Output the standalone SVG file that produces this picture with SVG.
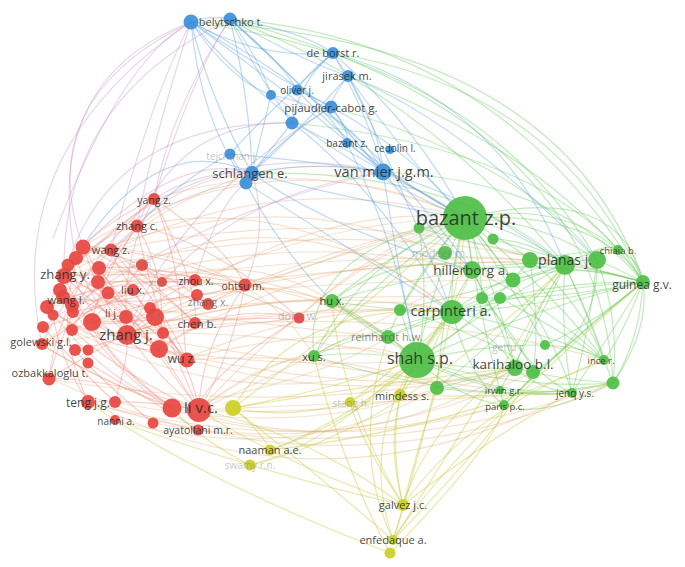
<svg xmlns="http://www.w3.org/2000/svg" width="685" height="567" viewBox="0 0 685 567">
<style>
path{fill:none;stroke-width:1.2;stroke-linecap:round}
.r{stroke:#ee7a70;stroke-opacity:.36}
.o{stroke:#e3a66a;stroke-opacity:.32}
.g{stroke:#5ec852;stroke-opacity:.38}
.b{stroke:#5ea3e0;stroke-opacity:.4}
.y{stroke:#c6cf45;stroke-opacity:.45}
.p{stroke:#c79cc4;stroke-opacity:.4}
.nr{fill:#e8453f;fill-opacity:.92}
.ng{fill:#4ebf45;fill-opacity:.92}
.nb{fill:#3b8fd8;fill-opacity:.92}
.ny{fill:#cdd02a;fill-opacity:.95}
text{font-family:"Open Sans","Noto Sans","DejaVu Sans",sans-serif;fill:#2a2a2a;fill-opacity:.88;text-anchor:middle}
.f{fill:#777;fill-opacity:.45}
.m{fill:#555;fill-opacity:.7}
</style>
<rect width="685" height="567" fill="#fff"/>
<g id="connectors">
<path class="r" d="M154 199Q110 220 83 246"/>
<path class="r" d="M154 199Q120 260 127 333"/>
<path class="r" d="M154 199Q90 250 64 276"/>
<path class="r" d="M154 199Q180 260 186 359"/>
<path class="r" d="M154 199Q60 280 49 378"/>
<path class="r" d="M137 226Q100 280 92 322"/>
<path class="r" d="M137 226Q170 280 159 350"/>
<path class="r" d="M137 226Q80 240 47 307"/>
<path class="r" d="M137 226Q150 300 199 410"/>
<path class="r" d="M83 246Q100 300 127 333"/>
<path class="r" d="M83 246Q150 280 195 323"/>
<path class="r" d="M83 246Q50 320 88 402"/>
<path class="r" d="M111 250Q160 300 186 359"/>
<path class="r" d="M111 250Q60 300 42 345"/>
<path class="r" d="M64 276Q120 300 159 350"/>
<path class="r" d="M64 276Q100 360 172 408"/>
<path class="r" d="M64 276Q200 270 245 285"/>
<path class="r" d="M99 268Q140 330 199 410"/>
<path class="r" d="M142 265Q100 320 72 330"/>
<path class="r" d="M133 292Q160 330 186 359"/>
<path class="r" d="M195 281Q150 300 127 333"/>
<path class="r" d="M195 281Q100 280 47 307"/>
<path class="r" d="M197 297Q130 330 92 322"/>
<path class="r" d="M245 285Q180 320 127 333"/>
<path class="r" d="M245 285Q200 350 199 410"/>
<path class="r" d="M245 285Q150 250 83 246"/>
<path class="r" d="M47 307Q100 350 159 350"/>
<path class="r" d="M47 307Q120 400 199 410"/>
<path class="r" d="M42 345Q100 380 172 408"/>
<path class="r" d="M49 378Q120 380 199 410"/>
<path class="r" d="M88 402Q150 400 199 410"/>
<path class="r" d="M127 333Q160 380 199 410"/>
<path class="r" d="M127 333Q80 360 49 378"/>
<path class="r" d="M92 322Q150 360 186 359"/>
<path class="r" d="M159 350Q180 380 199 410"/>
<path class="r" d="M155 317Q190 360 199 410"/>
<path class="r" d="M125 316Q80 280 64 276"/>
<path class="r" d="M163 333Q120 300 99 268"/>
<path class="r" d="M72 330Q90 290 133 292"/>
<path class="r" d="M43 327Q90 380 115 402"/>
<path class="r" d="M299 318Q220 300 159 350"/>
<path class="r" d="M299 318Q200 380 199 410"/>
<path class="r" d="M299 318Q180 260 99 268"/>
<path class="r" d="M195 323Q140 270 111 250"/>
<path class="r" d="M186 359Q120 330 64 276"/>
<path class="r" d="M198 430Q150 420 88 402"/>
<path class="r" d="M153 423Q100 380 75 350"/>
<path class="r" d="M245 285Q230 360 199 410"/>
<path class="r" d="M154 199Q230 250 245 285"/>
<path class="r" d="M137 226Q210 240 299 318"/>
<path class="r" d="M83 246Q130 330 159 349"/>
<path class="r" d="M76 258Q140 280 195 280"/>
<path class="r" d="M68 265Q100 340 127 335"/>
<path class="r" d="M99 268Q60 330 49 379"/>
<path class="r" d="M98 282Q150 330 187 360"/>
<path class="r" d="M108 293Q70 330 42 344"/>
<path class="r" d="M60 290Q120 320 163 333"/>
<path class="r" d="M63 297Q130 390 172 408"/>
<path class="r" d="M47 307Q90 340 127 335"/>
<path class="r" d="M73 312Q130 300 195 280"/>
<path class="r" d="M53 315Q60 360 88 402"/>
<path class="r" d="M150 308Q100 300 68 265"/>
<path class="r" d="M92 322Q150 300 197 295"/>
<path class="r" d="M72 330Q130 380 199 410"/>
<path class="r" d="M43 327Q100 310 133 290"/>
<path class="r" d="M75 350Q130 340 155 317"/>
<path class="r" d="M88 363Q150 400 198 430"/>
<path class="r" d="M159 349Q100 330 76 258"/>
<path class="r" d="M187 360Q120 280 111 250"/>
<path class="r" d="M208 304Q150 260 83 247"/>
<path class="r" d="M172 408Q110 360 92 322"/>
<path class="r" d="M115 402Q130 350 127 335"/>
<path class="r" d="M154 199Q200 290 195 323"/>
<path class="r" d="M137 226Q90 300 73 312"/>
<path class="r" d="M142 265Q180 300 208 304"/>
<path class="r" d="M245 285Q160 280 98 282"/>
<path class="r" d="M299 318Q200 330 127 335"/>
<path class="r" d="M299 318Q160 320 92 322"/>
<path class="r" d="M245 285Q150 310 63 297"/>
<path class="o" d="M127 333Q300 200 465 218"/>
<path class="o" d="M127 333Q300 280 452 312"/>
<path class="o" d="M127 333Q280 330 417 360"/>
<path class="o" d="M199 410Q320 320 417 360"/>
<path class="o" d="M199 410Q340 260 465 218"/>
<path class="o" d="M199 410Q350 340 472 270"/>
<path class="o" d="M199 410Q380 420 515 368"/>
<path class="o" d="M64 276Q260 160 465 218"/>
<path class="o" d="M47 307Q260 220 472 270"/>
<path class="o" d="M83 246Q280 130 465 218"/>
<path class="o" d="M172 408Q350 470 515 368"/>
<path class="o" d="M49 378Q330 510 613 383"/>
<path class="o" d="M88 402Q330 520 572 393"/>
<path class="o" d="M42 345Q260 480 504 405"/>
<path class="o" d="M195 281Q330 220 465 218"/>
<path class="o" d="M186 359Q320 300 452 312"/>
<path class="o" d="M159 350Q300 370 417 360"/>
<path class="o" d="M245 285Q360 240 465 218"/>
<path class="o" d="M154 199Q310 150 465 218"/>
<path class="o" d="M137 226Q300 190 452 312"/>
<path class="o" d="M111 250Q350 200 565 265"/>
<path class="o" d="M92 322Q350 250 565 265"/>
<path class="o" d="M64 276Q350 200 643 282"/>
<path class="o" d="M47 307Q350 260 597 260"/>
<path class="o" d="M127 333Q400 300 604 360"/>
<path class="o" d="M159 350Q380 400 533 372"/>
<path class="o" d="M199 410Q420 400 572 393"/>
<path class="o" d="M186 359Q300 330 388 337"/>
<path class="o" d="M127 333Q230 300 332 301"/>
<path class="o" d="M199 410Q260 360 314 356"/>
<path class="o" d="M245 285Q290 290 332 301"/>
<path class="o" d="M299 318Q380 290 452 312"/>
<path class="o" d="M299 318Q380 240 465 218"/>
<path class="o" d="M72 330Q250 420 417 360"/>
<path class="o" d="M115 402Q300 440 437 388"/>
<path class="o" d="M92 322Q300 420 515 368"/>
<path class="o" d="M42 345Q300 300 452 312"/>
<path class="o" d="M64 276Q300 250 417 360"/>
<path class="o" d="M98 282Q300 180 452 312"/>
<path class="o" d="M76 258Q300 170 472 270"/>
<path class="o" d="M60 290Q330 250 530 260"/>
<path class="o" d="M92 322Q320 290 482 298"/>
<path class="o" d="M155 317Q320 260 465 218"/>
<path class="o" d="M187 360Q350 350 437 388"/>
<path class="o" d="M159 349Q350 230 565 265"/>
<path class="o" d="M172 408Q320 380 388 337"/>
<path class="o" d="M195 323Q340 310 400 310"/>
<path class="o" d="M208 304Q320 260 419 228"/>
<path class="o" d="M197 295Q350 280 513 280"/>
<path class="o" d="M49 379Q300 420 515 368"/>
<path class="o" d="M88 402Q300 460 504 405"/>
<path class="o" d="M198 430Q400 460 613 383"/>
<path class="o" d="M153 423Q350 460 533 372"/>
<path class="o" d="M115 420Q300 470 437 388"/>
<path class="o" d="M245 285Q350 300 417 360"/>
<path class="o" d="M127 335Q350 370 500 390"/>
<path class="o" d="M111 250Q300 100 465 218"/>
<path class="o" d="M42 344Q200 220 332 301"/>
<path class="o" d="M83 247Q250 250 314 356"/>
<path class="o" d="M63 297Q300 330 388 337"/>
<path class="p" d="M43 327Q200 210 383 172"/>
<path class="p" d="M64 276Q200 130 383 172"/>
<path class="p" d="M83 246Q180 150 252 173"/>
<path class="p" d="M111 250Q170 190 246 183"/>
<path class="p" d="M154 199Q200 170 252 173"/>
<path class="p" d="M53 238Q120 60 191 22"/>
<path class="p" d="M42 345Q0 150 191 22"/>
<path class="p" d="M64 276Q60 100 230 19"/>
<path class="p" d="M76 260Q40 80 191 22"/>
<path class="p" d="M137 226Q180 120 292 123"/>
<path class="p" d="M127 333Q180 200 331 107"/>
<path class="p" d="M230 19Q170 110 154 199"/>
<path class="p" d="M191 22Q150 150 137 226"/>
<path class="p" d="M98 282Q150 180 252 173"/>
<path class="p" d="M127 335Q200 200 383 172"/>
<path class="p" d="M195 280Q220 200 246 183"/>
<path class="p" d="M60 290Q100 120 292 123"/>
<path class="p" d="M154 199Q190 80 230 19"/>
<path class="p" d="M111 250Q150 100 191 22"/>
<path class="p" d="M245 285Q270 230 252 173"/>
<path class="p" d="M83 247Q30 100 191 22"/>
<path class="g" d="M465 218Q470 245 472 270"/>
<path class="g" d="M465 218Q450 265 452 312"/>
<path class="g" d="M465 218Q430 290 417 360"/>
<path class="g" d="M465 218Q520 230 565 265"/>
<path class="g" d="M465 218Q540 220 597 260"/>
<path class="g" d="M465 218Q600 210 643 282"/>
<path class="g" d="M465 218Q560 200 618 250"/>
<path class="g" d="M465 218Q500 300 515 368"/>
<path class="g" d="M465 218Q560 300 604 360"/>
<path class="g" d="M465 218Q550 320 572 393"/>
<path class="g" d="M465 218Q480 320 504 405"/>
<path class="g" d="M465 218Q380 260 332 301"/>
<path class="g" d="M465 218Q360 290 314 356"/>
<path class="g" d="M465 218Q410 280 388 337"/>
<path class="g" d="M465 218Q430 230 419 228"/>
<path class="g" d="M472 270Q520 260 565 265"/>
<path class="g" d="M472 270Q560 260 643 282"/>
<path class="g" d="M472 270Q450 310 417 360"/>
<path class="g" d="M472 270Q500 320 515 368"/>
<path class="g" d="M472 270Q400 280 332 301"/>
<path class="g" d="M452 312Q520 280 565 265"/>
<path class="g" d="M452 312Q550 280 643 282"/>
<path class="g" d="M452 312Q430 340 417 360"/>
<path class="g" d="M452 312Q500 340 515 368"/>
<path class="g" d="M452 312Q540 330 604 360"/>
<path class="g" d="M452 312Q380 310 332 301"/>
<path class="g" d="M452 312Q370 330 314 356"/>
<path class="g" d="M417 360Q500 300 565 265"/>
<path class="g" d="M417 360Q530 310 643 282"/>
<path class="g" d="M417 360Q470 370 515 368"/>
<path class="g" d="M417 360Q520 390 613 383"/>
<path class="g" d="M417 360Q500 400 572 393"/>
<path class="g" d="M417 360Q460 400 504 405"/>
<path class="g" d="M417 360Q370 350 314 356"/>
<path class="g" d="M417 360Q370 320 332 301"/>
<path class="g" d="M565 265Q600 270 643 282"/>
<path class="g" d="M565 265Q590 320 613 383"/>
<path class="g" d="M565 265Q560 330 572 393"/>
<path class="g" d="M565 265Q530 320 515 368"/>
<path class="g" d="M597 260Q620 320 613 383"/>
<path class="g" d="M643 282Q620 340 604 360"/>
<path class="g" d="M643 282Q640 340 613 383"/>
<path class="g" d="M643 282Q600 350 572 393"/>
<path class="g" d="M643 282Q560 350 504 405"/>
<path class="g" d="M643 282Q520 310 452 312"/>
<path class="g" d="M530 260Q540 330 533 372"/>
<path class="g" d="M515 368Q560 380 613 383"/>
<path class="g" d="M515 368Q540 390 572 393"/>
<path class="g" d="M613 383Q540 420 504 405"/>
<path class="g" d="M643 282Q620 180 465 218"/>
<path class="g" d="M613 383Q650 330 643 282"/>
<path class="g" d="M618 250Q640 260 643 282"/>
<path class="g" d="M332 301Q360 320 388 337"/>
<path class="g" d="M314 356Q350 330 388 337"/>
<path class="g" d="M437 388Q470 380 515 368"/>
<path class="g" d="M437 388Q530 400 613 383"/>
<path class="g" d="M400 310Q430 260 465 218"/>
<path class="g" d="M400 310Q480 290 565 265"/>
<path class="g" d="M482 298Q520 340 533 372"/>
<path class="g" d="M500 298Q560 330 604 360"/>
<path class="g" d="M545 345Q520 300 465 218"/>
<path class="g" d="M230 19Q500 40 643 282"/>
<path class="g" d="M191 22Q480 60 597 260"/>
<path class="g" d="M333 53Q560 90 643 282"/>
<path class="g" d="M348 76Q520 140 618 250"/>
<path class="g" d="M230 19Q420 90 565 265"/>
<path class="g" d="M314 356Q450 400 572 393"/>
<path class="g" d="M332 301Q480 420 613 383"/>
<path class="g" d="M388 337Q500 290 643 282"/>
<path class="g" d="M314 356Q300 250 465 218"/>
<path class="g" d="M597 260Q600 330 533 372"/>
<path class="g" d="M530 260Q580 300 604 360"/>
<path class="g" d="M465 218Q500 260 513 280"/>
<path class="g" d="M465 218Q520 250 530 260"/>
<path class="g" d="M465 218Q480 250 482 298"/>
<path class="g" d="M419 228Q430 300 417 360"/>
<path class="g" d="M419 228Q500 250 565 265"/>
<path class="g" d="M493 239Q530 240 565 265"/>
<path class="g" d="M493 239Q560 260 643 282"/>
<path class="g" d="M472 270Q540 300 604 360"/>
<path class="g" d="M472 270Q520 370 572 393"/>
<path class="g" d="M452 312Q470 380 504 405"/>
<path class="g" d="M452 312Q520 260 597 260"/>
<path class="g" d="M417 360Q480 320 530 260"/>
<path class="g" d="M417 360Q560 330 604 360"/>
<path class="g" d="M513 280Q580 260 643 282"/>
<path class="g" d="M530 260Q590 250 618 250"/>
<path class="g" d="M565 265Q610 240 618 250"/>
<path class="g" d="M597 260Q620 270 643 282"/>
<path class="g" d="M565 265Q600 340 604 360"/>
<path class="g" d="M388 337Q420 320 452 312"/>
<path class="g" d="M332 301Q400 250 472 270"/>
<path class="g" d="M314 356Q360 260 465 218"/>
<path class="g" d="M437 388Q440 330 465 218"/>
<path class="g" d="M437 388Q500 340 565 265"/>
<path class="g" d="M500 390Q540 320 565 265"/>
<path class="g" d="M504 405Q580 330 643 282"/>
<path class="g" d="M572 393Q590 330 597 260"/>
<path class="g" d="M545 345Q600 320 643 282"/>
<path class="g" d="M482 298Q560 300 643 282"/>
<path class="g" d="M400 310Q500 340 533 372"/>
<path class="g" d="M400 310Q410 340 417 360"/>
<path class="g" d="M191 22Q560 40 643 282"/>
<path class="g" d="M230 19Q600 120 613 383"/>
<path class="g" d="M292 123Q560 150 643 282"/>
<path class="g" d="M331 107Q520 160 597 260"/>
<path class="g" d="M383 172Q560 180 643 282"/>
<path class="g" d="M252 173Q460 170 565 265"/>
<path class="b" d="M191 22Q210 100 252 173"/>
<path class="b" d="M191 22Q200 120 246 183"/>
<path class="b" d="M191 22Q260 60 333 53"/>
<path class="b" d="M191 22Q280 80 331 107"/>
<path class="b" d="M191 22Q300 150 465 218"/>
<path class="b" d="M191 22Q350 100 472 270"/>
<path class="b" d="M230 19Q300 30 333 53"/>
<path class="b" d="M230 19Q300 60 348 76"/>
<path class="b" d="M230 19Q260 80 292 123"/>
<path class="b" d="M230 19Q250 100 252 173"/>
<path class="b" d="M230 19Q340 120 383 172"/>
<path class="b" d="M191 22Q210 15 230 19"/>
<path class="b" d="M333 53Q340 65 348 76"/>
<path class="b" d="M333 53Q300 80 292 123"/>
<path class="b" d="M333 53Q420 130 465 218"/>
<path class="b" d="M333 53Q500 100 565 265"/>
<path class="b" d="M348 76Q400 150 465 218"/>
<path class="b" d="M348 76Q460 120 597 260"/>
<path class="b" d="M348 76Q300 130 252 173"/>
<path class="b" d="M331 107Q360 150 383 172"/>
<path class="b" d="M331 107Q410 150 465 218"/>
<path class="b" d="M331 107Q280 140 252 173"/>
<path class="b" d="M292 123Q350 150 383 172"/>
<path class="b" d="M292 123Q370 180 452 312"/>
<path class="b" d="M297 90Q320 100 331 107"/>
<path class="b" d="M271 95Q260 140 252 173"/>
<path class="b" d="M347 143Q380 170 465 218"/>
<path class="b" d="M252 173Q320 160 383 172"/>
<path class="b" d="M252 173Q350 200 465 218"/>
<path class="b" d="M246 183Q350 250 452 312"/>
<path class="b" d="M383 172Q420 190 465 218"/>
<path class="b" d="M383 172Q430 230 472 270"/>
<path class="b" d="M383 172Q480 200 565 265"/>
<path class="b" d="M252 173Q160 130 83 246"/>
<path class="b" d="M230 154Q180 180 137 226"/>
<path class="b" d="M271 95Q350 110 383 172"/>
<path class="b" d="M297 90Q360 160 465 218"/>
<path class="b" d="M348 76Q380 130 383 172"/>
<path class="b" d="M333 53Q260 120 230 154"/>
<path class="b" d="M246 183Q280 250 332 301"/>
<path class="b" d="M347 143Q400 250 417 360"/>
<path class="b" d="M230 19Q330 110 347 143"/>
<path class="b" d="M191 22Q300 100 383 172"/>
<path class="b" d="M333 53Q370 120 383 172"/>
<path class="b" d="M348 76Q330 100 331 107"/>
<path class="b" d="M271 95Q300 110 292 123"/>
<path class="b" d="M230 19Q260 60 271 95"/>
<path class="b" d="M230 19Q280 60 297 90"/>
<path class="b" d="M191 22Q230 80 271 95"/>
<path class="b" d="M333 53Q310 70 297 90"/>
<path class="b" d="M292 123Q270 150 252 173"/>
<path class="b" d="M331 107Q350 130 347 143"/>
<path class="b" d="M348 76Q400 180 452 312"/>
<path class="b" d="M383 172Q400 280 417 360"/>
<path class="b" d="M252 173Q330 230 472 270"/>
<path class="b" d="M230 154Q300 160 383 172"/>
<path class="b" d="M230 154Q240 170 246 183"/>
<path class="y" d="M403 505Q380 420 417 360"/>
<path class="y" d="M403 505Q430 420 515 368"/>
<path class="y" d="M403 505Q500 430 572 393"/>
<path class="y" d="M403 505Q340 400 332 301"/>
<path class="y" d="M403 505Q300 430 199 410"/>
<path class="y" d="M403 505Q470 410 604 360"/>
<path class="y" d="M393 540Q360 440 417 360"/>
<path class="y" d="M393 540Q470 420 565 265"/>
<path class="y" d="M393 540Q300 460 233 408"/>
<path class="y" d="M393 540Q400 520 403 505"/>
<path class="y" d="M393 540Q420 460 452 312"/>
<path class="y" d="M390 553Q340 460 314 356"/>
<path class="y" d="M233 408Q330 390 417 360"/>
<path class="y" d="M233 408Q350 320 465 218"/>
<path class="y" d="M233 408Q300 300 452 312"/>
<path class="y" d="M270 450Q350 420 417 360"/>
<path class="y" d="M270 450Q450 430 604 360"/>
<path class="y" d="M250 465Q350 440 452 312"/>
<path class="y" d="M250 465Q200 440 172 408"/>
<path class="y" d="M350 402Q390 380 417 360"/>
<path class="y" d="M350 402Q290 420 233 408"/>
<path class="y" d="M400 395Q410 375 417 360"/>
<path class="y" d="M400 395Q460 330 465 218"/>
<path class="y" d="M400 395Q520 400 613 383"/>
<path class="y" d="M270 450Q230 430 199 410"/>
<path class="y" d="M403 505Q250 470 115 420"/>
<path class="y" d="M390 553Q200 480 88 402"/>
<path class="y" d="M403 505Q390 450 400 395"/>
<path class="y" d="M393 540Q450 450 643 282"/>
<path class="y" d="M390 553Q500 440 504 405"/>
<path class="y" d="M403 505Q420 440 437 388"/>
<path class="y" d="M403 505Q360 440 350 402"/>
<path class="y" d="M393 540Q500 430 533 372"/>
<path class="y" d="M393 540Q350 450 388 337"/>
<path class="y" d="M403 505Q330 480 270 450"/>
<path class="y" d="M233 408Q260 430 270 450"/>
<path class="y" d="M233 408Q400 380 515 368"/>
<path class="y" d="M270 450Q420 400 472 270"/>
<path class="y" d="M250 465Q400 430 565 265"/>
<path class="y" d="M350 402Q420 350 452 312"/>
</g>
<g id="n-0"><circle class="nb" cx="191" cy="22" r="7.5"/></g>
<g id="n-1"><circle class="nb" cx="271" cy="95" r="5"/></g>
<g id="n-2"><circle class="nb" cx="292" cy="123" r="6.5"/></g>
<g id="n-3"><circle class="nb" cx="246" cy="183" r="6.5"/></g>
<g id="n-4"><circle class="ng" cx="419" cy="228" r="5.5"/></g>
<g id="n-5"><circle class="ng" cx="493" cy="239" r="5.5"/></g>
<g id="n-6"><circle class="ng" cx="530" cy="260" r="8"/></g>
<g id="n-7"><circle class="ng" cx="513" cy="280" r="7.5"/></g>
<g id="n-8"><circle class="ng" cx="597" cy="260" r="9"/></g>
<g id="n-9"><circle class="ng" cx="482" cy="298" r="6"/></g>
<g id="n-10"><circle class="ng" cx="500" cy="298" r="6"/></g>
<g id="n-11"><circle class="ng" cx="400" cy="310" r="6"/></g>
<g id="n-12"><circle class="ng" cx="533" cy="372" r="7"/></g>
<g id="n-13"><circle class="ng" cx="613" cy="383" r="6.5"/></g>
<g id="n-14"><circle class="ng" cx="437" cy="388" r="7"/></g>
<g id="n-15"><circle class="ny" cx="390" cy="553" r="5.5"/></g>
<g id="n-16"><circle class="nr" cx="83" cy="247" r="7.5"/></g>
<g id="n-17"><circle class="nr" cx="76" cy="258" r="7"/></g>
<g id="n-18"><circle class="nr" cx="68" cy="265" r="6.5"/></g>
<g id="n-19"><circle class="nr" cx="99" cy="268" r="7"/></g>
<g id="n-20"><circle class="nr" cx="98" cy="282" r="7"/></g>
<g id="n-21"><circle class="nr" cx="108" cy="293" r="6.5"/></g>
<g id="n-22"><circle class="nr" cx="60" cy="290" r="7"/></g>
<g id="n-23"><circle class="nr" cx="63" cy="297" r="7"/></g>
<g id="n-24"><circle class="nr" cx="47" cy="307" r="7"/></g>
<g id="n-25"><circle class="nr" cx="73" cy="312" r="6"/></g>
<g id="n-26"><circle class="nr" cx="53" cy="315" r="5.5"/></g>
<g id="n-27"><circle class="nr" cx="150" cy="308" r="6"/></g>
<g id="n-28"><circle class="nr" cx="92" cy="322" r="9"/></g>
<g id="n-29"><circle class="nr" cx="163" cy="333" r="6"/></g>
<g id="n-30"><circle class="nr" cx="72" cy="330" r="6"/></g>
<g id="n-31"><circle class="nr" cx="43" cy="327" r="6"/></g>
<g id="n-32"><circle class="nr" cx="75" cy="350" r="6"/></g>
<g id="n-33"><circle class="nr" cx="88" cy="350" r="5.5"/></g>
<g id="n-34"><circle class="nr" cx="88" cy="363" r="5.5"/></g>
<g id="n-35"><circle class="nr" cx="159" cy="349" r="9"/></g>
<g id="n-36"><circle class="nr" cx="115" cy="402" r="6"/></g>
<g id="n-37"><circle class="nr" cx="153" cy="423" r="5.5"/></g>
<g id="n-38"><circle class="nr" cx="172" cy="408" r="9.5"/></g>
<g id="n-39"><circle class="nr" cx="208" cy="304" r="6"/></g>
<g id="n-bazant-zp"><circle class="ng" cx="465" cy="218" r="22"/><text x="466" y="225" font-size="20">bazant z.p.</text></g>
<g id="n-shah-sp"><circle class="ng" cx="417" cy="360" r="18"/><text x="420" y="364" font-size="16">shah s.p.</text></g>
<g id="n-carpinteri-a"><circle class="ng" cx="452" cy="312" r="12"/><text x="451" y="316" font-size="14.5">carpinteri a.</text></g>
<g id="n-planas-j"><circle class="ng" cx="565" cy="265" r="10"/><text x="565" y="265" font-size="14">planas j.</text></g>
<g id="n-hillerborg-a"><circle class="ng" cx="472" cy="270" r="9"/><text x="471" y="275" font-size="13.5">hillerborg a.</text></g>
<g id="n-modeer-m"><circle class="ng" cx="445" cy="253" r="7"/><text class="f" x="440" y="257" font-size="11">modeer m.</text></g>
<g id="n-karihaloo-bl"><circle class="ng" cx="515" cy="368" r="8"/><text x="513" y="369" font-size="13.5">karihaloo b.l.</text></g>
<g id="n-gettu-r"><circle class="ng" cx="545" cy="345" r="5"/><text class="f" x="509" y="350.5" font-size="10">gettu r.</text></g>
<g id="n-guinea-gv"><circle class="ng" cx="643" cy="282" r="7"/><text x="642" y="289" font-size="12">guinea g.v.</text></g>
<g id="n-chiaia-b"><circle class="ng" cx="618" cy="250" r="5"/><text x="618" y="254" font-size="9.5">chiaia b.</text></g>
<g id="n-ince-r"><circle class="ng" cx="604" cy="360" r="5"/><text x="601" y="363.5" font-size="9.5">ince r.</text></g>
<g id="n-irwin-gr"><circle class="ng" cx="500" cy="390" r="4"/><text x="504" y="393.5" font-size="9.5">irwin g.r.</text></g>
<g id="n-paris-pc"><circle class="ng" cx="504" cy="405" r="5"/><text x="505" y="409.5" font-size="9.5">paris p.c.</text></g>
<g id="n-jenq-ys"><circle class="ng" cx="572" cy="393" r="5"/><text x="575" y="396.5" font-size="10">jenq y.s.</text></g>
<g id="n-reinhardt-hw"><circle class="ng" cx="388" cy="337" r="7"/><text class="m" x="387" y="341" font-size="11">reinhardt h.w.</text></g>
<g id="n-hu-x"><circle class="ng" cx="332" cy="301" r="7"/><text x="332" y="305" font-size="11">hu x.</text></g>
<g id="n-xu-s"><circle class="ng" cx="314" cy="356" r="6"/><text x="314" y="361" font-size="11">xu s.</text></g>
<g id="n-van-mier-jgm"><circle class="nb" cx="383" cy="172" r="8.5"/><text x="384" y="177" font-size="14.5">van mier j.g.m.</text></g>
<g id="n-schlangen-e"><circle class="nb" cx="252" cy="173" r="7"/><text x="250" y="177.5" font-size="13">schlangen e.</text></g>
<g id="n-tejchman-j"><circle class="nb" cx="230" cy="154" r="5.5"/><text class="f" x="232" y="159.5" font-size="10">tejchman j.</text></g>
<g id="n-belytschko-t"><circle class="nb" cx="230" cy="19" r="6.5"/><text x="231" y="26" font-size="11">belytschko t.</text></g>
<g id="n-de-borst-r"><circle class="nb" cx="333" cy="53" r="6"/><text x="333" y="57" font-size="11">de borst r.</text></g>
<g id="n-jirasek-m"><circle class="nb" cx="348" cy="76" r="6"/><text x="347" y="80" font-size="11">jirasek m.</text></g>
<g id="n-oliver-j"><circle class="nb" cx="297" cy="90" r="5.5"/><text x="297" y="93.5" font-size="10">oliver j.</text></g>
<g id="n-pijaudier-cabot-g"><circle class="nb" cx="331" cy="107" r="6.5"/><text x="331" y="112" font-size="11.5">pijaudier-cabot g.</text></g>
<g id="n-bazant-z"><circle class="nb" cx="347" cy="143" r="5"/><text x="347" y="146.5" font-size="10">bazant z.</text></g>
<g id="n-cedolin-l"><circle class="nb" cx="390" cy="150" r="4"/><text x="395" y="151.5" font-size="10">cedolin l.</text></g>
<g id="n-li-vc"><circle class="nr" cx="199" cy="410" r="12"/><text x="201" y="413" font-size="15">li v.c.</text></g>
<g id="n-li-vc-y"><circle class="ny" cx="233" cy="408" r="8"/></g>
<g id="n-ayatollahi-mr"><circle class="nr" cx="198" cy="430" r="5.5"/><text x="198" y="434" font-size="10.5">ayatollahi m.r.</text></g>
<g id="n-nanni-a"><circle class="nr" cx="115" cy="420" r="5"/><text x="116" y="424.5" font-size="10">nanni a.</text></g>
<g id="n-teng-jg"><circle class="nr" cx="88" cy="402" r="7"/><text x="88" y="407" font-size="12">teng j.g.</text></g>
<g id="n-ozbakkaloglu-t"><circle class="nr" cx="49" cy="379" r="6.5"/><text x="50" y="377" font-size="11">ozbakkaloglu t.</text></g>
<g id="n-golewski-gl"><circle class="nr" cx="42" cy="344" r="6"/><text x="41" y="346" font-size="11">golewski g.l.</text></g>
<g id="n-zhang-j"><circle class="nr" cx="127" cy="335" r="10"/><text x="126" y="340" font-size="15">zhang j.</text></g>
<g id="n-wu-z"><circle class="nr" cx="187" cy="360" r="7.5"/><text x="182" y="363" font-size="12">wu z.</text></g>
<g id="n-chen-b"><circle class="nr" cx="195" cy="323" r="6"/><text x="197" y="328" font-size="11.5">chen b.</text></g>
<g id="n-li-j"><circle class="nr" cx="126" cy="317" r="7"/><text x="112" y="317" font-size="11">li j.</text></g>
<g id="n-li-z"><circle class="nr" cx="155" cy="317" r="9"/><text class="f" x="155" y="319.5" font-size="10">li z.</text></g>
<g id="n-wang-l"><circle class="nr" cx="72" cy="305" r="7"/><text x="66" y="304" font-size="11.5">wang l.</text></g>
<g id="n-liu-x"><circle class="nr" cx="133" cy="290" r="6"/><text x="133" y="294" font-size="11">liu x.</text></g>
<g id="n-zhang-x"><circle class="nr" cx="197" cy="295" r="6"/><text class="m" x="208" y="305.5" font-size="10.5">zhang x.</text></g>
<g id="n-zhou-x"><circle class="nr" cx="195" cy="280" r="6"/><text x="196" y="284.5" font-size="10.5">zhou x.</text></g>
<g id="n-xiao"><circle class="nr" cx="162" cy="282" r="5"/><text class="f" x="158" y="286" font-size="9">xiao</text></g>
<g id="n-ohtsu-m"><circle class="nr" cx="245" cy="285" r="6.5"/><text x="243" y="289.5" font-size="10.5">ohtsu m.</text></g>
<g id="n-dong-w"><circle class="nr" cx="299" cy="318" r="5.5"/><text class="f" x="298" y="320" font-size="11">dong w.</text></g>
<g id="n-zhang-y"><circle class="nr" cx="64" cy="276" r="8"/><text x="65" y="278.5" font-size="13">zhang y.</text></g>
<g id="n-shen"><circle class="nr" cx="142" cy="265" r="6"/><text class="f" x="141" y="267" font-size="9">shen</text></g>
<g id="n-wang-z"><circle class="nr" cx="111" cy="250" r="6.5"/><text x="111" y="254" font-size="11">wang z.</text></g>
<g id="n-zhang-c"><circle class="nr" cx="137" cy="226" r="6.5"/><text x="137" y="230" font-size="11">zhang c.</text></g>
<g id="n-yang-z"><circle class="nr" cx="154" cy="199" r="6"/><text x="154" y="203.5" font-size="10.5">yang z.</text></g>
<g id="n-naaman-ae"><circle class="ny" cx="270" cy="450" r="5.5"/><text x="270" y="454" font-size="11">naaman a.e.</text></g>
<g id="n-swamy-rn"><circle class="ny" cx="250" cy="465" r="5.5"/><text class="f" x="250" y="468.5" font-size="10">swamy r.n.</text></g>
<g id="n-stang-h"><circle class="ny" cx="350" cy="402" r="5"/><text class="f" x="351" y="406.5" font-size="10">stang h.</text></g>
<g id="n-mindess-s"><circle class="ny" cx="400" cy="395" r="6"/><text x="402" y="400" font-size="11">mindess s.</text></g>
<g id="n-galvez-jc"><circle class="ny" cx="403" cy="505" r="6"/><text x="403" y="509" font-size="11">galvez j.c.</text></g>
<g id="n-enfedaque-a"><circle class="ny" cx="393" cy="540" r="5"/><text x="393" y="544" font-size="11">enfedaque a.</text></g>
</svg>
